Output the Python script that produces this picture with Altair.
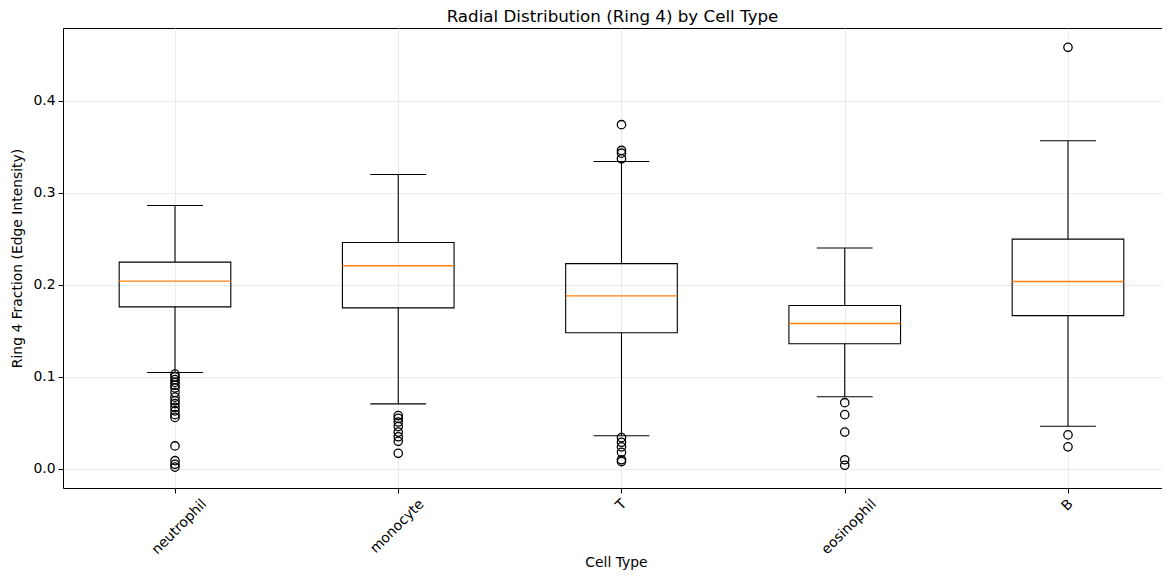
import altair as alt
import pandas as pd

cats = ["neutrophil", "monocyte", "T", "eosinophil", "B"]
positions = [1, 2, 3, 4, 5]
whislo = [0.1047, 0.0707, 0.0360, 0.0785, 0.0464]
q1 = [0.1761, 0.1750, 0.1480, 0.1360, 0.1666]
med = [0.2040, 0.2207, 0.1880, 0.1580, 0.2036]
q3 = [0.2247, 0.2460, 0.2230, 0.1775, 0.2497]
whishi = [0.2862, 0.3199, 0.3340, 0.2400, 0.3565]

out_neutrophil = [0.103, 0.100, 0.097, 0.094, 0.091, 0.088, 0.083, 0.078, 0.074,
                  0.071, 0.067, 0.063, 0.059, 0.056, 0.025, 0.009, 0.005, 0.002]
out_monocyte = [0.058, 0.055, 0.051, 0.046, 0.040, 0.035, 0.030, 0.017]
out_T = [0.374, 0.346, 0.343, 0.337, 0.034, 0.029, 0.024, 0.018, 0.010, 0.008]
out_eosinophil = [0.072, 0.059, 0.040, 0.010, 0.004]
out_B = [0.458, 0.037, 0.024]

stats = pd.DataFrame({"cat": cats, "pos": positions, "whislo": whislo, "q1": q1,
                      "med": med, "q3": q3, "whishi": whishi})
out_lists = [out_neutrophil, out_monocyte, out_T, out_eosinophil, out_B]
outliers = pd.DataFrame([
    {"cat": c, "pos": p, "val": v}
    for c, p, vals in zip(cats, positions, out_lists) for v in vals
])

FONT = "DejaVu Sans"
# the x range runs slightly past the view so the boxes sit where the reference has them
xs = alt.Scale(domain=[0.4983, 5.4525], nice=False, zero=False, range=[0, 1106])
ys = alt.Scale(domain=[-0.0207, 0.479], nice=False, zero=False)

xaxis = alt.Axis(values=positions, labels=False, grid=True, title="Cell Type",
                 titleY=67, titleBaseline="top", ticks=True)
yaxis = alt.Axis(values=[0, 0.1, 0.2, 0.3, 0.4], format=".1f",
                 title="Ring 4 Fraction (Edge Intensity)", grid=True, titlePadding=8)

base = alt.Chart(stats).transform_calculate(
    x0="datum.pos - 0.25", x1="datum.pos + 0.25",
    c0="datum.pos - 0.125", c1="datum.pos + 0.125"
)

box = base.mark_rect(fill="transparent", stroke="black", strokeWidth=1.1).encode(
    x=alt.X("x0:Q", scale=xs, axis=xaxis), x2="x1:Q",
    y=alt.Y("q1:Q", scale=ys, axis=yaxis), y2="q3:Q",
)
whisk_lo = base.mark_rule(color="black", strokeWidth=1.1).encode(
    x=alt.X("pos:Q", scale=xs, axis=xaxis),
    y=alt.Y("whislo:Q", scale=ys, axis=yaxis), y2="q1:Q")
whisk_hi = base.mark_rule(color="black", strokeWidth=1.1).encode(
    x=alt.X("pos:Q", scale=xs, axis=xaxis),
    y=alt.Y("q3:Q", scale=ys, axis=yaxis), y2="whishi:Q")
cap_lo = base.mark_rule(color="black", strokeWidth=1.1).encode(
    x=alt.X("c0:Q", scale=xs, axis=xaxis), x2="c1:Q",
    y=alt.Y("whislo:Q", scale=ys, axis=yaxis))
cap_hi = base.mark_rule(color="black", strokeWidth=1.1).encode(
    x=alt.X("c0:Q", scale=xs, axis=xaxis), x2="c1:Q",
    y=alt.Y("whishi:Q", scale=ys, axis=yaxis))
median = base.mark_rule(color="#ff7f0e", strokeWidth=1.4).encode(
    x=alt.X("x0:Q", scale=xs, axis=xaxis), x2="x1:Q",
    y=alt.Y("med:Q", scale=ys, axis=yaxis))

pts = alt.Chart(outliers).mark_point(
    shape="circle", filled=False, color="black", size=70, strokeWidth=1.3, opacity=1
).encode(
    x=alt.X("pos:Q", scale=xs, axis=xaxis),
    y=alt.Y("val:Q", scale=ys, axis=yaxis),
)

labels = alt.Chart(stats).transform_calculate(
    lx="datum.pos + length(datum.cat) * 0.0132"
).mark_text(
    angle=315, align="right", baseline="middle", fontSize=13.9, font=FONT, color="black"
).encode(
    x=alt.X("lx:Q", scale=xs, axis=xaxis),
    y=alt.value(474),
    text="cat:N",
)

chart = alt.layer(box, whisk_lo, whisk_hi, cap_lo, cap_hi, median, pts, labels).properties(
    width=1099, height=460,
    title=alt.TitleParams("Radial Distribution (Ring 4) by Cell Type", fontSize=16.7,
                          fontWeight="normal", font=FONT, anchor="middle", offset=2,
                          color="black"),
    autosize=alt.AutoSizeParams(type="none"),
    padding={"left": 55, "top": 20, "right": 0, "bottom": 83},
).configure_view(
    stroke="black", strokeWidth=1
).configure_axis(
    domain=False, gridColor="#e6e6e6", gridWidth=0.8, tickColor="black", tickSize=5,
    tickWidth=1, labelFont=FONT, labelFontSize=13.9, labelColor="black", labelPadding=3,
    titleFont=FONT, titleFontSize=13.9, titleFontWeight="normal", titleColor="black"
)

chart.save("out.html", embed_options={"renderer": "svg", "actions": False})
